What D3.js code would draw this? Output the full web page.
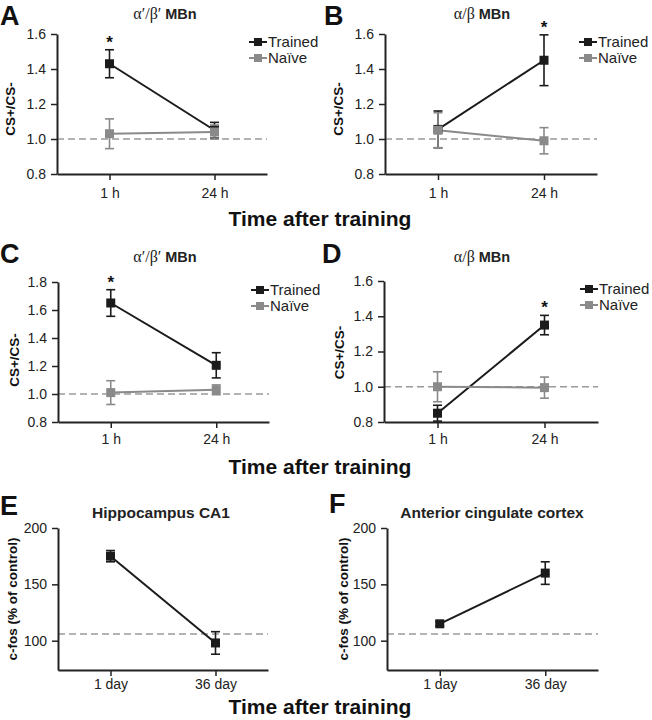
<!DOCTYPE html>
<html><head><meta charset="utf-8">
<script src="https://cdn.jsdelivr.net/npm/d3@7"></script>
<style>body{margin:0;background:#fff} svg{display:block}</style>
</head><body>
<script>
// ---------- data ----------
const timesHours = ["1 h", "24 h"];
const timesDays = ["1 day", "36 day"];
const seriesNames = ["Trained", "Naïve"];

const aTrained = [1.43, 1.05];
const aTrainedErr = [0.08, 0.045];
const aNaive = [1.03, 1.04];
const aNaiveErr = [0.085, 0.04];
const aSig = ["1 h"];

const bTrained = [1.055, 1.45];
const bTrainedErr = [0.105, 0.145];
const bNaive = [1.05, 0.99];
const bNaiveErr = [0.1, 0.075];
const bSig = ["24 h"];

const cTrained = [1.65, 1.205];
const cTrainedErr = [0.095, 0.09];
const cNaive = [1.01, 1.03];
const cNaiveErr = [0.085, 0.035];
const cSig = ["1 h"];

const dTrained = [0.85, 1.35];
const dTrainedErr = [0.045, 0.055];
const dNaive = [1.0, 0.995];
const dNaiveErr = [0.085, 0.06];
const dSig = ["24 h"];

const eValues = [175, 98];
const eErr = [5, 10];
const fValues = [115, 160];
const fErr = [2, 10];

const ticksMB = [0.8, 1.0, 1.2, 1.4, 1.6];
const ticksMBc = [0.8, 1.0, 1.2, 1.4, 1.6, 1.8];
const ticksFos = [100, 150, 200];
const refMB = 1.0;
const refFos = 106;

const titleMBab1 = ["α′/β′", "MBn"];
const titleMBab = ["α/β", "MBn"];
const titleE = "Hippocampus CA1";
const titleF = "Anterior cingulate cortex";
const yLabelMB = "CS+/CS-";
const yLabelFos = "c-fos (% of control)";
const xTitle = "Time after training";

// ---------- drawing ----------
const W = 652, H = 720;
const svg = d3.select("body").append("svg").attr("width", W).attr("height", H);
const SANS = "'Liberation Sans', Arial, Helvetica, sans-serif";
const NARROW = "'Liberation Sans Narrow', 'Liberation Sans', Arial, sans-serif";
const SERIF = "'Liberation Serif', 'Times New Roman', serif";
const DARK = "#1b1b1b", GREY = "#8a8a8a", REF = "#9a9a9a";

function panel(cfg) {
  const g = svg.append("g");
  const x = d3.scalePoint().domain(cfg.cats).range([cfg.left, cfg.right]).padding(0.5);
  const y = d3.scaleLinear().domain(cfg.yDomain).range([cfg.bottom, cfg.top]);

  // letter
  g.append("text").attr("x", cfg.letterX).attr("y", cfg.letterY)
    .attr("font-family", SANS).attr("font-weight", "bold").attr("font-size", 27)
    .attr("fill", "#111").text(cfg.letter);

  // title
  const t = g.append("text").attr("x", cfg.titleX).attr("y", cfg.titleY)
    .attr("text-anchor", "middle").attr("fill", "#222");
  if (Array.isArray(cfg.title)) {
    t.append("tspan").attr("font-family", SERIF).attr("font-size", 16).text(cfg.title[0]);
    t.append("tspan").attr("font-family", SANS).attr("font-weight", "bold").attr("font-size", 14.5).text(" " + cfg.title[1]);
  } else {
    t.attr("font-family", SANS).attr("font-weight", "bold").attr("font-size", 15.5).text(cfg.title);
  }

  // reference dashed line
  g.append("line").attr("x1", cfg.left).attr("x2", cfg.right)
    .attr("y1", y(cfg.ref)).attr("y2", y(cfg.ref))
    .attr("stroke", REF).attr("stroke-width", 1.6).attr("stroke-dasharray", "7,4");

  // axes
  const yAxis = d3.axisLeft(y).tickValues(cfg.ticks).tickSize(6).tickSizeOuter(0).tickPadding(5)
    .tickFormat(cfg.fmt);
  const yg = g.append("g").attr("transform", `translate(${cfg.left},0)`).call(yAxis);
  const xAxis = d3.axisBottom(x).tickSize(6).tickSizeOuter(0).tickPadding(cfg.xPad);
  const xg = g.append("g").attr("transform", `translate(0,${cfg.bottom})`).call(xAxis);
  [yg, xg].forEach(a => {
    a.select(".domain").attr("stroke", "#222").attr("stroke-width", 2);
    a.selectAll(".tick line").attr("stroke", "#222").attr("stroke-width", 1.5);
    a.selectAll(".tick text").attr("font-family", NARROW).attr("font-size", 14).attr("fill", "#222");
  });

  // y label
  g.append("text")
    .attr("transform", `translate(${cfg.left - cfg.ylabOff},${(cfg.top + cfg.bottom) / 2 + cfg.ylabDy}) rotate(-90)`)
    .attr("text-anchor", "middle").attr("dy", "0.35em")
    .attr("font-family", SANS).attr("font-weight", "bold").attr("font-size", 13.5).attr("fill", "#111")
    .text(cfg.ylab);

  // series
  cfg.series.forEach(s => {
    const pts = cfg.cats.map((c, i) => ({c, v: s.values[i], e: s.err[i]}));
    g.append("path").datum(pts)
      .attr("d", d3.line().x(d => x(d.c)).y(d => y(d.v)))
      .attr("fill", "none").attr("stroke", s.color).attr("stroke-width", 2);
    const eb = g.append("g").attr("stroke", s.color).attr("stroke-width", 1.6);
    pts.forEach(d => {
      eb.append("line").attr("x1", x(d.c)).attr("x2", x(d.c)).attr("y1", y(d.v - d.e)).attr("y2", y(d.v + d.e));
      [d.v - d.e, d.v + d.e].forEach(v =>
        eb.append("line").attr("x1", x(d.c) - 4.5).attr("x2", x(d.c) + 4.5).attr("y1", y(v)).attr("y2", y(v)));
    });
    s.pts = pts;
  });
  cfg.series.forEach(s => {
    g.selectAll(null).data(s.pts).enter().append("rect")
      .attr("x", d => x(d.c) - 4.5).attr("y", d => y(d.v) - 4.5)
      .attr("width", 9).attr("height", 9).attr("fill", s.color);
  });

  // significance
  if (cfg.sig) {
    const tr = cfg.series[0];
    cfg.sig.forEach(c => {
      const i = cfg.cats.indexOf(c);
      g.append("text").attr("x", x(c)).attr("y", y(tr.values[i] + tr.err[i]) - 2)
        .attr("text-anchor", "middle").attr("font-family", SANS).attr("font-weight", "bold")
        .attr("font-size", 17).attr("fill", "#111").text("*");
    });
  }

  // legend
  if (cfg.legend) {
    cfg.series.forEach((s, i) => {
      const ly = cfg.top + 8 + i * 16;
      g.append("line").attr("x1", cfg.right - 18).attr("x2", cfg.right).attr("y1", ly).attr("y2", ly)
        .attr("stroke", s.color).attr("stroke-width", 2);
      g.append("rect").attr("x", cfg.right - 13).attr("y", ly - 4).attr("width", 8).attr("height", 8).attr("fill", s.color);
      g.append("text").attr("x", cfg.right + 1).attr("y", ly).attr("dy", "0.35em")
        .attr("font-family", SANS).attr("font-size", 15).attr("fill", "#222").text(s.name);
    });
  }
}

function mb(tr, trE, nv, nvE) {
  return [
    {name: seriesNames[0], values: tr, err: trE, color: DARK},
    {name: seriesNames[1], values: nv, err: nvE, color: GREY}
  ];
}
const f1 = d3.format(".1f");

panel({letter: "A", letterX: 0, letterY: 25, title: titleMBab1, titleX: 165, titleY: 19,
  left: 57, right: 267, top: 34, bottom: 174, yDomain: [0.8, 1.6], ticks: ticksMB, fmt: f1,
  cats: timesHours, ref: refMB, ylab: yLabelMB, ylabOff: 47, ylabDy: 5, xPad: 8,
  series: mb(aTrained, aTrainedErr, aNaive, aNaiveErr), sig: aSig, legend: true});
panel({letter: "B", letterX: 324, letterY: 25, title: titleMBab, titleX: 482, titleY: 19,
  left: 385, right: 597, top: 34, bottom: 174, yDomain: [0.8, 1.6], ticks: ticksMB, fmt: f1,
  cats: timesHours, ref: refMB, ylab: yLabelMB, ylabOff: 47, ylabDy: 5, xPad: 8,
  series: mb(bTrained, bTrainedErr, bNaive, bNaiveErr), sig: bSig, legend: true});
panel({letter: "C", letterX: 0, letterY: 263, title: titleMBab1, titleX: 165, titleY: 262,
  left: 58, right: 269, top: 282, bottom: 422, yDomain: [0.8, 1.8], ticks: ticksMBc, fmt: f1,
  cats: timesHours, ref: refMB, ylab: yLabelMB, ylabOff: 44, ylabDy: 8, xPad: 6,
  series: mb(cTrained, cTrainedErr, cNaive, cNaiveErr), sig: cSig, legend: true});
panel({letter: "D", letterX: 322, letterY: 263, title: titleMBab, titleX: 482, titleY: 262,
  left: 384, right: 598, top: 281, bottom: 422, yDomain: [0.8, 1.6], ticks: ticksMB, fmt: f1,
  cats: timesHours, ref: refMB, ylab: yLabelMB, ylabOff: 45, ylabDy: 1, xPad: 6,
  series: mb(dTrained, dTrainedErr, dNaive, dNaiveErr), sig: dSig, legend: true});
panel({letter: "E", letterX: 0, letterY: 515, title: titleE, titleX: 161, titleY: 518,
  left: 58, right: 268, top: 528, bottom: 670, yDomain: [74, 200], ticks: ticksFos, fmt: d3.format("d"),
  cats: timesDays, ref: refFos, ylab: yLabelFos, ylabOff: 46, ylabDy: 0, xPad: 3,
  series: [{name: "", values: eValues, err: eErr, color: DARK}], legend: false});
panel({letter: "F", letterX: 329, letterY: 513, title: titleF, titleX: 492, titleY: 518,
  left: 387, right: 598, top: 528, bottom: 670, yDomain: [74, 200], ticks: ticksFos, fmt: d3.format("d"),
  cats: timesDays, ref: refFos, ylab: yLabelFos, ylabOff: 44, ylabDy: 0, xPad: 3,
  series: [{name: "", values: fValues, err: fErr, color: DARK}], legend: false});

[226, 474, 714].forEach(yy => {
  svg.append("text").attr("x", 320).attr("y", yy).attr("text-anchor", "middle")
    .attr("font-family", NARROW).attr("font-weight", "bold").attr("font-size", 21).attr("fill", "#111")
    .text(xTitle);
});
</script>
</body></html>
